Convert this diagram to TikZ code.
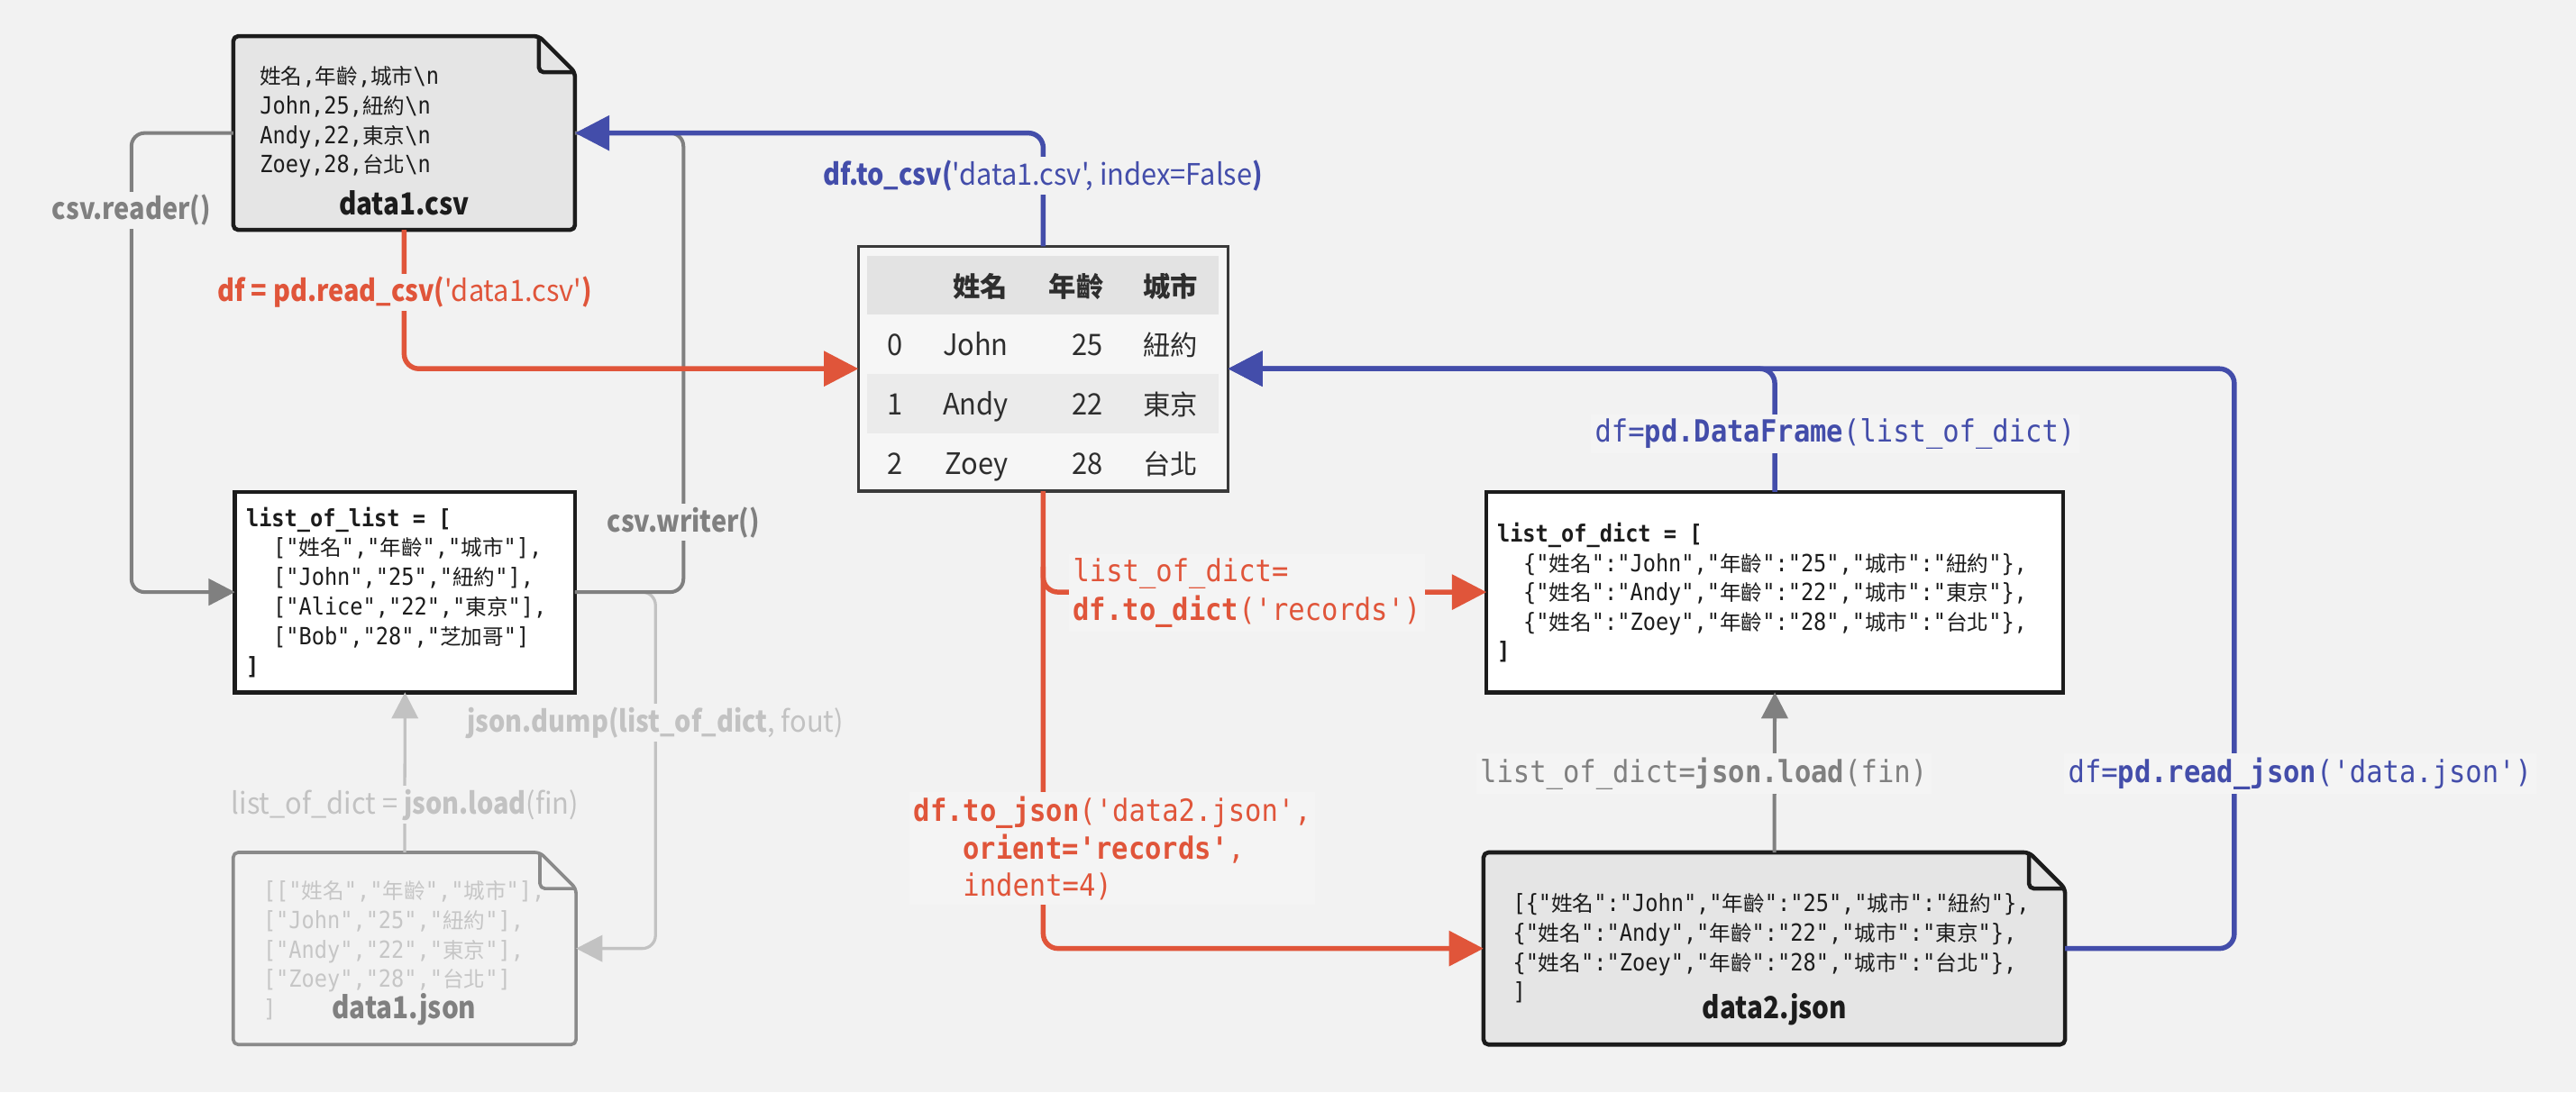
\documentclass[tikz,border=0pt]{standalone}
\usepackage{fontspec}
\usetikzlibrary{arrows.meta}
\newfontfamily\cjkfont{Noto Sans CJK TC}
\newfontfamily\cjktab[Scale=0.925]{Noto Sans CJK TC}
\newfontfamily\cjkmono[Scale=0.9]{Noto Sans CJK TC}
\newfontfamily\sansf[FakeStretch=0.94]{Noto Sans CJK TC}
\newfontfamily\sansB[FakeStretch=0.88]{Noto Sans CJK TC}
\newfontfamily\monof[FakeStretch=0.9]{DejaVu Sans Mono}
\newcommand\bsf[1]{{\sansB\bfseries #1}}
\def\cjksw{\cjkfont}
\XeTeXinterchartokenstate=1
\newXeTeXintercharclass\cjkcls
\XeTeXcharclass`姓=\cjkcls
\XeTeXcharclass`名=\cjkcls
\XeTeXcharclass`年=\cjkcls
\XeTeXcharclass`齡=\cjkcls
\XeTeXcharclass`城=\cjkcls
\XeTeXcharclass`市=\cjkcls
\XeTeXcharclass`紐=\cjkcls
\XeTeXcharclass`約=\cjkcls
\XeTeXcharclass`東=\cjkcls
\XeTeXcharclass`京=\cjkcls
\XeTeXcharclass`台=\cjkcls
\XeTeXcharclass`北=\cjkcls
\XeTeXcharclass`芝=\cjkcls
\XeTeXcharclass`加=\cjkcls
\XeTeXcharclass`哥=\cjkcls
\XeTeXcharclass`\,=0
\XeTeXcharclass`\:=0
\XeTeXcharclass`\"=0
\XeTeXcharclass`\[=0
\XeTeXcharclass`\]=0
\XeTeXcharclass`\(=0
\XeTeXcharclass`\)=0
\XeTeXcharclass`\{=0
\XeTeXcharclass`\}=0
\XeTeXinterchartoks 0 \cjkcls = {\begingroup\cjksw}
\XeTeXinterchartoks 4095 \cjkcls = {\begingroup\cjksw}
\XeTeXinterchartoks \cjkcls 0 = {\endgroup}
\XeTeXinterchartoks \cjkcls 4095 = {\endgroup}

\definecolor{bgc}{HTML}{F2F2F2}
\definecolor{blu}{HTML}{434DAA}
\definecolor{redc}{HTML}{E0553A}
\definecolor{gry}{HTML}{808080}
\definecolor{lgry}{HTML}{C2C2C2}
\definecolor{docfill}{HTML}{E5E5E5}
\definecolor{ink}{HTML}{1C1C1C}
\definecolor{tabtext}{HTML}{2E2E2E}
\definecolor{tabline}{HTML}{3A3A3A}
\definecolor{hdr}{HTML}{E3E3E3}
\definecolor{rowb}{HTML}{EBEBEB}
\definecolor{tabfill}{HTML}{F6F6F6}
\definecolor{lblf}{HTML}{F4F4F4}
\definecolor{jtext}{HTML}{C6C6C6}
\definecolor{jline}{HTML}{8A8A8A}

\newcommand\docpath[1]{(#1.south) -- (#1.south west) -- (#1.north west) -- ([xshift=-22pt]#1.north east) -- ([yshift=-22pt]#1.north east) -- (#1.south east) -- cycle}
\newcommand\foldpath[1]{([xshift=-22pt]#1.north east) -- ([xshift=-22pt,yshift=-22pt]#1.north east) -- ([yshift=-22pt]#1.north east)}

\tikzset{
  bluearrow/.style={draw=blu, line width=3pt, rounded corners=9pt, -{Triangle[length=21pt,width=21pt]}},
  redarrow/.style={draw=redc, line width=3pt, rounded corners=9pt, -{Triangle[length=21pt,width=21pt]}},
  grayarrow/.style={draw=gry, line width=2.2pt, rounded corners=8pt, -{Triangle[length=16pt,width=16pt]}},
  grayline/.style={draw=gry, line width=2.2pt, rounded corners=8pt},
  lgrayarrow/.style={draw=lgry, line width=1.8pt, rounded corners=8pt, -{Triangle[length=16pt,width=16pt]}},
  lbl/.style={fill=bgc, inner xsep=3pt, inner ysep=2pt},
  slbl/.style={lbl, font=\sansf\fontsize{18}{22}\selectfont},
  mlbl/.style={lbl, fill=lblf, inner xsep=2.5pt, inner ysep=2.5pt, font=\monof\fontsize{18.6}{23.5}\selectfont, align=left},
  boxn/.style={draw=ink, line width=2.5pt, fill=white, inner sep=0pt, outer sep=0pt},
  docn/.style={inner sep=0pt, outer sep=0pt},
  docshape/.style={line width=2.5pt, rounded corners=3pt, line join=round},
  code/.style={inner sep=0pt, align=left, anchor=west, text=ink},
  doctitle/.style={inner sep=0pt, font=\sansB\bfseries\fontsize{18.5}{22}\selectfont},
  cell/.style={inner sep=0pt, anchor=base east, text=tabtext, font=\sansf\fontsize{18}{21}\selectfont\let\cjksw\cjktab},
  hcell/.style={cell, font=\sansB\bfseries\fontsize{18}{21}\selectfont\let\cjksw\cjktab},
}
\newcommand\codefont[1]{\monof\fontsize{14.4}{#1}\selectfont\let\cjksw\cjkmono}

\begin{document}
\begin{tikzpicture}[x=1pt,y=-1pt]
\fill[bgc] (0,0) rectangle (1568,665);
\useasboundingbox (0,0) rectangle (1568,665);

% ---------- boxes ----------
\node[docn, minimum width=208pt, minimum height=118pt] (csv) at (246,81) {};
\draw[docshape, fill=docfill, draw=ink] \docpath{csv};
\draw[docshape, draw=ink] \foldpath{csv};

\node[docn, minimum width=208.7pt, minimum height=117pt] (d1j) at (246.3,577.5) {};
\draw[docshape, fill=bgc, draw=jline, line width=2pt] \docpath{d1j};
\draw[docshape, draw=jline, line width=2pt] \foldpath{d1j};

\node[docn, minimum width=354pt, minimum height=117pt] (d2) at (1080,577.5) {};
\draw[docshape, fill=docfill, draw=ink] \docpath{d2};
\draw[docshape, draw=ink] \foldpath{d2};

\node[boxn, minimum width=207pt, minimum height=122pt] (lol) at (246.5,360.5) {};
\node[boxn, minimum width=351pt, minimum height=122pt] (lod) at (1080.3,360.5) {};

\node[draw=tabline, line width=2pt, fill=tabfill, inner sep=0pt, outer sep=0pt,
      minimum width=225pt, minimum height=149pt] (df) at (635,224.5) {};
\fill[hdr] (528,155.8) rectangle (742,191.6);
\fill[rowb] (528,227.7) rectangle (742,263.7);

% ---------- connectors ----------
\coordinate (jdA) at (399,360.5);
\draw[lgrayarrow] (lol.east) -- (jdA) |- (d1j.east);
\draw[lgrayarrow] (d1j.north) -- (lol.south);
\coordinate (crA) at (80,81);
\draw[grayarrow] (csv.west) -- (crA) |- (lol.west);
\coordinate (cwA) at (416,360.5);
\draw[grayline] (lol.east) -- (cwA) |- (csv.east);
\draw[grayarrow] (d2.north) -- (lod.south);

\draw[redarrow] (csv.south) |- (df.west);
\draw[redarrow] (df.south) |- (d2.west);
\coordinate (tdA) at (635,345);
\draw[redarrow] (tdA) |- (lod.west);

\draw[bluearrow] (df.north) |- (csv.east);
\coordinate (rjA) at (1360,224.5);
\draw[bluearrow] (d2.east) -| (rjA) -- (df.east);
\draw[bluearrow] (lod.north) |- (df.east);

% ---------- labels ----------
\node[slbl, text=gry] (lcr) at (80,128) {\bsf{csv.reader()}};
\node[slbl, text=gry] (lcw) at (416,318) {\bsf{csv.writer()}};
\node[slbl, text=redc] (lrc) at (246.5,178) {\bsf{df = pd.read\_csv(}'data1.csv'\bsf{)}};
\node[slbl, text=blu] (ltc) at (635,107) {\bsf{df.to\_csv(}'data1.csv', index=False\bsf{)}};
\node[slbl, text=lgry] (ljd) at (399,440) {\bsf{json.dump(list\_of\_dict}, fout)};
\node[slbl, text=lgry] (ljl1) at (246.6,490) {list\_of\_dict = \bsf{json.load}(fin)};

\node[mlbl, text=blu] (ldf) at (1117,264) {df=\textbf{pd.DataFrame}(list\_of\_dict)};
\node[mlbl, text=redc, anchor=west] (ltd) at (650.5,361) {list\_of\_dict=\\\textbf{df.to\_dict}('records')};
\node[mlbl, text=redc, anchor=west, font=\monof\fontsize{18.6}{22.8}\selectfont] (ltj) at (553.5,516.6) {\textbf{df.to\_json}('data2.json',\\\hspace*{30pt}\textbf{orient='records'},\\\hspace*{30pt}indent=4)};
\node[mlbl, text=gry] (ljl2) at (1037,471) {list\_of\_dict=\textbf{json.load}(fin)};
\node[mlbl, text=blu] (lrj) at (1400,471) {df=\textbf{pd.read\_json}('data.json')};

% ---------- texts inside boxes ----------
\node[code, font=\codefont{17.9}] (csvT) at (158,74.3)
  {姓名,年齡,城市\textbackslash n\\John,25,紐約\textbackslash n\\Andy,22,東京\textbackslash n\\Zoey,28,台北\textbackslash n};
\node[doctitle, text=ink] (csvN) at (246,123.5) {data1.csv};

\node[code, text=jtext, font=\codefont{17.9}] (d1jT) at (160,578.7)
  {[["姓名","年齡","城市"],\\\relax["John","25","紐約"],\\\relax["Andy","22","東京"],\\\relax["Zoey","28","台北"]\\]};
\node[doctitle, text=gry] (d1jN) at (246,614.5) {data1.json};

\node[code, font=\codefont{18}] (d2T) at (920.7,577.4)
  {[\{"姓名":"John","年齡":"25","城市":"紐約"\},\\\{"姓名":"Andy","年齡":"22","城市":"東京"\},\\\{"姓名":"Zoey","年齡":"28","城市":"台北"\},\\]};
\node[doctitle, text=ink] (d2N) at (1080.3,614.5) {data2.json};

\node[code, font=\codefont{18}] (lolT) at (149.6,360.5)
  {\textbf{list\_of\_list = [}\\
   \hspace*{16.5pt}["姓名","年齡","城市"],\\
   \hspace*{16.5pt}["John","25","紐約"],\\
   \hspace*{16.5pt}["Alice","22","東京"],\\
   \hspace*{16.5pt}["Bob","28","芝加哥"]\\
   \textbf{]}};

\node[code, font=\codefont{17.8}] (lodT) at (911.1,360.8)
  {\textbf{list\_of\_dict = [}\\
   \hspace*{16pt}\{"姓名":"John","年齡":"25","城市":"紐約"\},\\
   \hspace*{16pt}\{"姓名":"Andy","年齡":"22","城市":"東京"\},\\
   \hspace*{16pt}\{"姓名":"Zoey","年齡":"28","城市":"台北"\},\\
   \textbf{]}};

% ---------- table cells ----------
\node[hcell] (h1) at (613.5,180.5) {姓名};
\node[hcell] (h2) at (672,180.5) {年齡};
\node[hcell] (h3) at (729.5,180.5) {城市};
\node[cell] (r0i) at (549.6,216.7) {0};
\node[cell] (r0n) at (614,216.7) {John};
\node[cell] (r0a) at (671.5,216.7) {25};
\node[cell] (r0c) at (729.5,216.7) {紐約};
\node[cell] (r1i) at (549.6,252.7) {1};
\node[cell] (r1n) at (614,252.7) {Andy};
\node[cell] (r1a) at (671.5,252.7) {22};
\node[cell] (r1c) at (729.5,252.7) {東京};
\node[cell] (r2i) at (549.6,288.6) {2};
\node[cell] (r2n) at (614,288.6) {Zoey};
\node[cell] (r2a) at (671.5,288.6) {28};
\node[cell] (r2c) at (729.5,288.6) {台北};
\end{tikzpicture}
\end{document}
